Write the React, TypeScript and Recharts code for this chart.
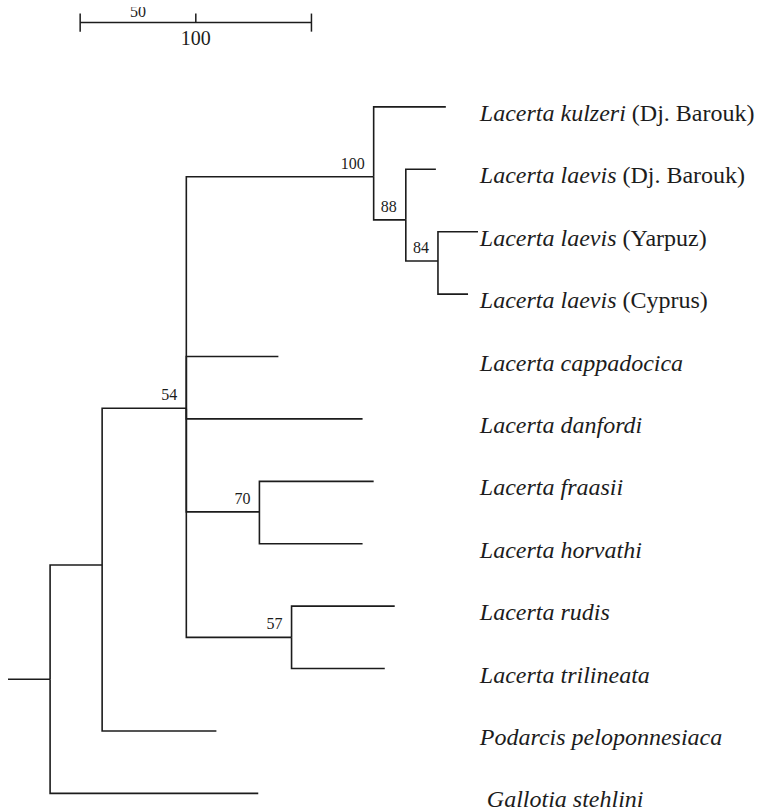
import React from "react";
import { ComposedChart, Line, Scatter, XAxis, YAxis } from "recharts";

// leaves, top to bottom (row = index)
const leafNames = [
  "Lacerta kulzeri",
  "Lacerta laevis",
  "Lacerta laevis",
  "Lacerta laevis",
  "Lacerta cappadocica",
  "Lacerta danfordi",
  "Lacerta fraasii",
  "Lacerta horvathi",
  "Lacerta rudis",
  "Lacerta trilineata",
  "Podarcis peloponnesiaca",
  "Gallotia stehlini",
];
const leafNotes = ["(Dj. Barouk)", "(Dj. Barouk)", "(Yarpuz)", "(Cyprus)", "", "", "", "", "", "", "", ""];
const leafParents = ["c100", "c88", "c84", "c84", "B", "B", "c70", "c70", "c57", "c57", "A", "root"];
const leafLengths = [31.2, 13.0, 17.3, 13.0, 39.8, 76.2, 49.4, 44.6, 44.6, 40.3, 49.4, 90.0];

// internal nodes
const cladeIds = ["root", "A", "B", "c100", "c88", "c84", "c70", "c57"];
const cladeParents = [null, "root", "A", "B", "c100", "c88", "B", "B"];
const cladeLengths = [18.2, 22.5, 36.4, 81.0, 13.9, 13.9, 31.6, 45.5];
const cladeRows = [9.17, 7.34, 4.83, 1.12, 1.81, 2.47, 6.49, 8.5];
const cladeSupport = [null, null, 54, 100, 88, 84, 70, 57];

// scale bar
const scaleStart = 31.2;
const scaleLength = 100;
const scaleRow = -1.35;
const scaleLabels = ["50", "100"];
const scaleLabelAt = [25, 50];

const LABEL_X = 204;
const INK = "#1c1c1c";
const FONT = "'Liberation Serif', 'Times New Roman', serif";

type Pt = { x: number; y: number };

function buildTree() {
  const pos: Record<string, Pt> = {};
  const lookup = (id: string): Pt => {
    if (pos[id]) return pos[id];
    const i = cladeIds.indexOf(id);
    const parent = cladeParents[i];
    const px = parent ? lookup(parent).x : 0;
    pos[id] = { x: px + cladeLengths[i], y: cladeRows[i] };
    return pos[id];
  };
  cladeIds.forEach((id) => lookup(id));

  const segments: Pt[][] = [];
  cladeIds.forEach((id, i) => {
    const p = cladeParents[i];
    const me = pos[id];
    if (!p) {
      segments.push([{ x: 0, y: me.y }, { x: me.x, y: me.y }]);
    } else {
      const pp = pos[p];
      segments.push([{ x: pp.x, y: pp.y }, { x: pp.x, y: me.y }, { x: me.x, y: me.y }]);
    }
  });
  leafNames.forEach((_, i) => {
    const pp = pos[leafParents[i]];
    const x = pp.x + leafLengths[i];
    segments.push([{ x: pp.x, y: pp.y }, { x: pp.x, y: i }, { x, y: i }]);
  });

  const supports = cladeIds
    .map((id, i) => ({ x: pos[id].x, y: pos[id].y, label: cladeSupport[i] }))
    .filter((d) => d.label != null);

  return { segments, supports };
}

const { segments, supports } = buildTree();

const tick = 0.145;
const scaleSegments: Pt[][] = [
  [{ x: scaleStart, y: scaleRow }, { x: scaleStart + scaleLength, y: scaleRow }],
  [{ x: scaleStart, y: scaleRow - tick }, { x: scaleStart, y: scaleRow + tick }],
  [{ x: scaleStart + scaleLength / 2, y: scaleRow - tick }, { x: scaleStart + scaleLength / 2, y: scaleRow }],
  [{ x: scaleStart + scaleLength, y: scaleRow - tick }, { x: scaleStart + scaleLength, y: scaleRow + tick }],
];
const scaleText = scaleLabels.map((t, i) => ({ x: scaleStart + scaleLabelAt[i], y: scaleRow, label: t, above: i === 0 }));

const leafPoints = leafNames.map((name, i) => ({ x: LABEL_X, y: i, name, note: leafNotes[i] }));

const LeafLabel = (props: any) => {
  const { cx, cy, payload } = props;
  // the outgroup label sits a little further right in the original
  const dx = payload.y === leafNames.length - 1 ? 7 : 0;
  return (
    <text x={cx + dx} y={cy + 14} fontFamily={FONT} fontSize={24} fill={INK}>
      <tspan fontStyle="italic">{payload.name}</tspan>
      {payload.note ? <tspan> {payload.note}</tspan> : null}
    </text>
  );
};

const SupportLabel = (props: any) => {
  const { cx, cy, payload } = props;
  return (
    <text x={cx - 9} y={cy - 8} textAnchor="end" fontFamily={FONT} fontSize={16} fill={INK}>
      {payload.label}
    </text>
  );
};

const ScaleLabel = (props: any) => {
  const { cx, cy, payload } = props;
  return (
    <text
      x={cx}
      y={payload.above ? cy - 6 : cy + 22}
      textAnchor="middle"
      fontFamily={FONT}
      fontSize={payload.above ? 16 : 20}
      fill={INK}
    >
      {payload.label}
    </text>
  );
};

export default function App() {
  return (
    <div style={{ position: "absolute", left: 0, top: 0, background: "#fff" }}>
      <ComposedChart width={763} height={811} margin={{ top: 7, right: 1, left: 8, bottom: 2 }}>
        <XAxis type="number" dataKey="x" domain={[0, 326]} hide allowDataOverflow />
        <YAxis type="number" dataKey="y" domain={[-1.6, 11.25]} reversed hide allowDataOverflow />
        {segments.map((seg, i) => (
          <Line
            key={`b${i}`}
            name={`branch${i}`}
            data={seg}
            dataKey="y"
            type="linear"
            stroke={INK}
            strokeWidth={1.6}
            dot={false}
            activeDot={false}
            isAnimationActive={false}
          />
        ))}
        {scaleSegments.map((seg, i) => (
          <Line
            key={`s${i}`}
            name={`scale${i}`}
            data={seg}
            dataKey="y"
            type="linear"
            stroke={INK}
            strokeWidth={1.5}
            dot={false}
            activeDot={false}
            isAnimationActive={false}
          />
        ))}
        <Scatter data={leafPoints} dataKey="y" shape={LeafLabel} isAnimationActive={false} />
        <Scatter data={supports} dataKey="y" shape={SupportLabel} isAnimationActive={false} />
        <Scatter data={scaleText} dataKey="y" shape={ScaleLabel} isAnimationActive={false} />
      </ComposedChart>
    </div>
  );
}
